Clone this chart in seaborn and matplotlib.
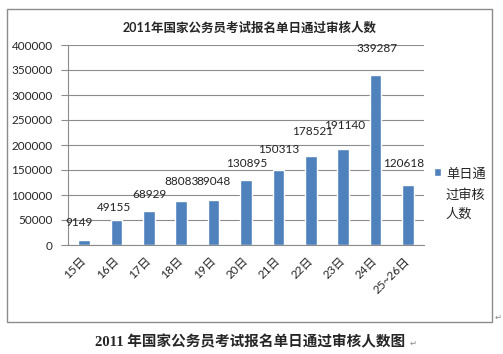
import matplotlib
matplotlib.use("Agg")
import matplotlib.pyplot as plt
import seaborn as sns
import numpy as np
from matplotlib.patches import Rectangle, Patch

# 数据
days = ["15日", "16日", "17日", "18日", "19日", "20日", "21日", "22日", "23日", "24日", "25~26日"]
counts = [9149, 49155, 68929, 88083, 89048, 130895, 150313, 178521, 191140, 339287, 120618]
y_ticks = [0, 50000, 100000, 150000, 200000, 250000, 300000, 350000, 400000]
series_name = "单日通过审核人数"
chart_title = "2011年国家公务员考试报名单日通过审核人数"
caption = "2011 年国家公务员考试报名单日通过审核人数图"

# 数据标签的偏移 (points)
label_dx = [-3.5, -2, 0.5, 0, 0, 0.5, 0.5, 1.5, 1, 1, -3]
label_dy = [12.7, 9.6, 11.2, 13.9, 13.5, 11.2, 14.3, 17.1, 17.1, 19, 15.6]

sns.set_style("white")
plt.rcParams['font.family'] = ['Lato', 'Noto Sans CJK SC', 'DejaVu Sans']
plt.rcParams['axes.unicode_minus'] = False

bar_color = "#4F81BD"
grid_color = "#8C8C8C"

fig = plt.figure(figsize=(5.03, 3.54), dpi=100)
fig.patch.set_facecolor("white")
ax = fig.add_axes([68 / 503, 109 / 354, 356 / 503, 200 / 354])

sns.barplot(x=days, y=counts, color=bar_color, width=0.36, saturation=1, ax=ax)

ax.set_xlim(-0.5, len(days) - 0.5)
ax.set_ylim(0, 400000)
ax.set_yticks(y_ticks)
ax.set_yticklabels([str(v) for v in y_ticks], fontsize=8.5)
ax.yaxis.grid(True, color=grid_color, lw=0.8)
ax.set_axisbelow(True)
ax.set_xlabel("")
ax.set_ylabel("")

for s in ["top", "right"]:
    ax.spines[s].set_visible(False)
for s in ["left", "bottom"]:
    ax.spines[s].set_color(grid_color)
    ax.spines[s].set_linewidth(0.8)

# x 轴刻度线在类别之间
ax.set_xticks(np.arange(-0.5, len(days)), minor=True)
ax.tick_params(axis="x", which="minor", length=5, color=grid_color, width=0.8)
ax.tick_params(axis="x", which="major", length=0, pad=10)
ax.tick_params(axis="y", length=5, color=grid_color, width=0.8, pad=6, left=True)
ax.set_xticks(range(len(days)))
ax.set_xticklabels(days, rotation=45, ha="right", va="center",
                   rotation_mode="anchor", fontsize=8.5)

# 数据标签
for i, v in enumerate(counts):
    ax.annotate(str(v), (i, v), xytext=(label_dx[i], label_dy[i]),
                textcoords="offset points", ha="center", va="center",
                fontsize=8.5, color="#222222")

# 图例
leg = ax.legend(handles=[Patch(facecolor=bar_color)], labels=["单日通\n过审核\n人数"],
                loc="upper left", bbox_to_anchor=(0.028, 0.0, 1, 0.385),
                frameon=False, fontsize=9.5, handlelength=0.55, handleheight=0.55,
                handletextpad=0.35, borderpad=0, borderaxespad=0)
# 让图例文字从坐标轴右侧开始
leg.set_bbox_to_anchor((1.028, 0.0, 1, 0.385), transform=ax.transAxes)
leg.get_texts()[0].set_linespacing(1.7)
for col in leg._legend_handle_box.get_children():
    for item in col.get_children():
        item.align = "top"

fig.text(250 / 503, 1 - 28 / 354, chart_title, ha="center", va="center",
         fontsize=9, fontweight="bold")

# 外框
fig.patches.append(Rectangle((7 / 503, 32 / 354), 485 / 503, 313 / 354,
                             transform=fig.transFigure, fill=False,
                             edgecolor=grid_color, lw=1))
fig.text(495 / 503, 1 - 317 / 354, "↵", fontsize=6, color="#888888",
         ha="left", va="center", family=['DejaVu Sans'])

fig.text(250 / 503, 1 - 342 / 354, caption, ha="center", va="center",
         fontsize=10.5, fontweight="bold",
         family=['Liberation Serif', 'Noto Sans CJK SC'])
fig.text(410 / 503, 1 - 343 / 354, "↵", fontsize=6, color="#888888",
         ha="left", va="center", family=['DejaVu Sans'])

fig.savefig("out.png", dpi=100, facecolor="white")
